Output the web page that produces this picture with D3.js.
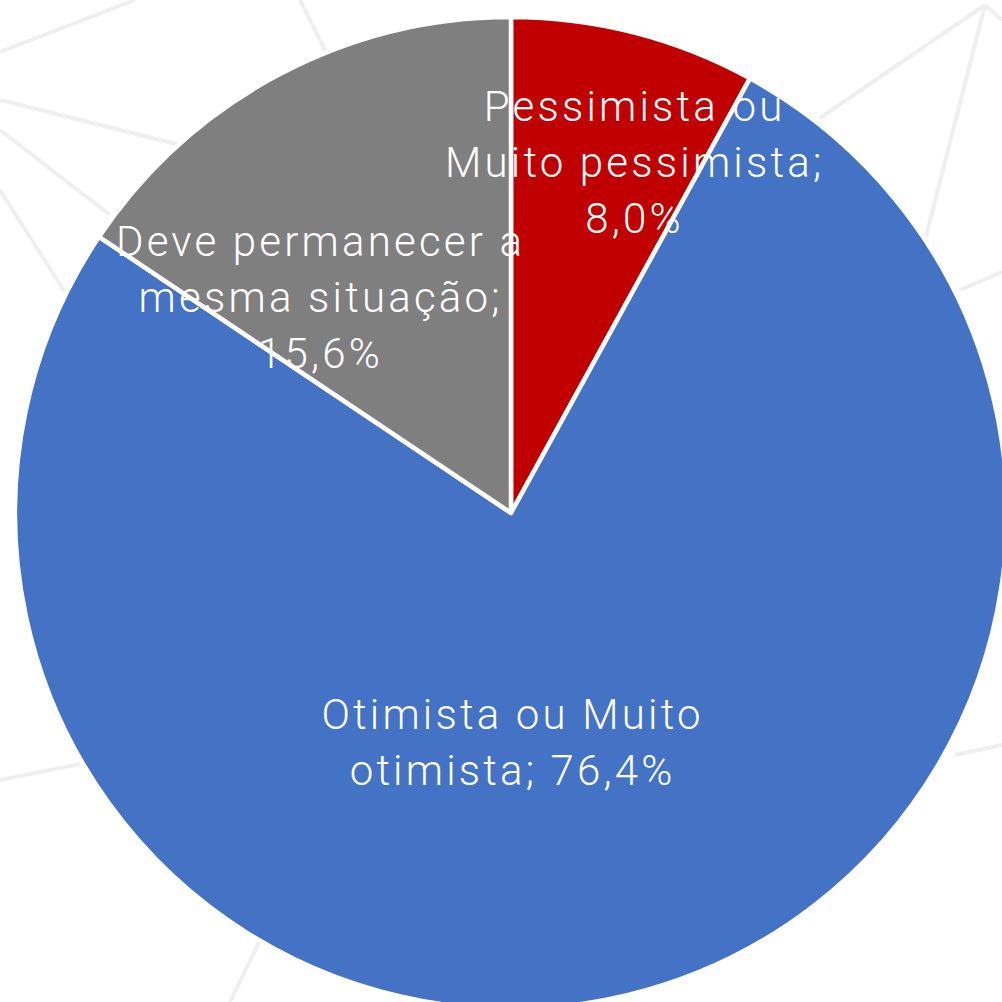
<!DOCTYPE html>
<html>
<head>
<meta charset="utf-8">
<script src="https://cdn.jsdelivr.net/npm/d3@7/dist/d3.min.js"></script>
<style>
  html, body { margin: 0; padding: 0; background: #fff; }
  svg { display: block; }
</style>
</head>
<body>
<svg id="chart" width="1002" height="1002"></svg>
<script>
// slices, clockwise from 12 o'clock
const categories = ["Pessimista ou Muito pessimista", "Otimista ou Muito otimista", "Deve permanecer a mesma situação"];
const values = [8.0, 76.4, 15.6];
const labelLines = [
  ["Pessimista ou", "Muito pessimista;", "8,0%"],
  ["Otimista ou Muito", "otimista; 76,4%"],
  ["Deve permanecer a", "mesma situação;", "15,6%"]
];
const colors = ["#c00000", "#4472c4", "#7f7f7f"];

// label anchor offsets from pie centre (Excel best-fit placement)
const labelOffset = [[122, -351], [0, 229], [-192, -216]];

const svg = d3.select("#chart");
const cx = 511, cy = 513, radius = 496;

// faint decorative network in the background
const deco = [
  [[0, 52], [135, 0]], [[0, 100], [180, 145]], [[0, 130], [110, 215]],
  [[0, 190], [70, 300]], [[300, 0], [330, 60]], [[985, 5], [820, 118]],
  [[985, 5], [925, 240]], [[985, 5], [1002, 20]], [[960, 290], [1002, 272]],
  [[0, 780], [80, 764]], [[955, 755], [1002, 745]], [[230, 1002], [260, 940]]
];
svg.append("g")
  .selectAll("line")
  .data(deco)
  .join("line")
  .attr("x1", (d) => d[0][0]).attr("y1", (d) => d[0][1])
  .attr("x2", (d) => d[1][0]).attr("y2", (d) => d[1][1])
  .attr("stroke", "#efefef")
  .attr("stroke-width", 4);

const pie = d3.pie().sort(null).value((d) => d);
const arc = d3.arc().innerRadius(0).outerRadius(radius);
const arcs = pie(values);

const g = svg.append("g").attr("transform", `translate(${cx}, ${cy})`);

g.selectAll("path.slice")
  .data(arcs)
  .join("path")
  .attr("class", "slice")
  .attr("d", arc)
  .attr("fill", (d, i) => colors[i])
  .attr("stroke", "#fff")
  .attr("stroke-width", 4.5)
  .attr("stroke-linejoin", "round");

const fontSize = 42;
const lineH = 56;
const tracking = 3.2;

const labels = g.selectAll("text.label")
  .data(arcs)
  .join("text")
  .attr("class", "label")
  .attr("text-anchor", "middle")
  .attr("font-family", "Roboto, 'Noto Sans', sans-serif")
  .attr("font-weight", 300)
  .attr("font-size", fontSize)
  .attr("letter-spacing", tracking)
  .attr("fill", "#fff")
  .attr("transform", (d, i) => `translate(${labelOffset[i][0] + tracking / 2}, ${labelOffset[i][1]})`);

labels.each(function (d, i) {
  const lines = labelLines[i];
  const top = -((lines.length - 1) * lineH) / 2;
  d3.select(this)
    .selectAll("tspan")
    .data(lines)
    .join("tspan")
    .attr("x", 0)
    .attr("y", (t, k) => top + k * lineH)
    .attr("dy", "0.35em")
    .text((t) => t);
});
</script>
</body>
</html>
